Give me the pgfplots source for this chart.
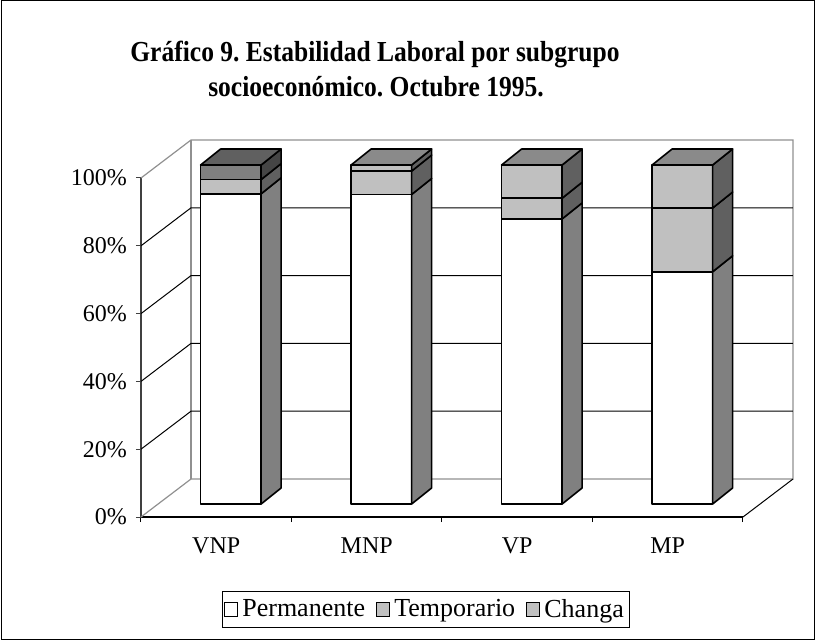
\documentclass[border=0pt]{standalone}
\usepackage{fontspec}
\setmainfont{Liberation Serif}
\newfontfamily\titlefont[FakeStretch=0.88]{Liberation Serif}
\usepackage{pgfplots}
\pgfplotsset{compat=1.18}
\definecolor{gA}{HTML}{C0C0C0}
\definecolor{gB}{HTML}{808080}
\definecolor{gC}{HTML}{606060}
\definecolor{gD}{HTML}{454545}
\definecolor{gT}{HTML}{8A8A8A}
\definecolor{wallgray}{HTML}{909090}
% #1 category centre, #2 base, #3 value, #4 front colour, #5 side colour
\newcommand{\seg}[5]{%
  \pgfmathsetmacro\xl{#1-0.104}%
  \pgfmathsetmacro\xr{#1+0.298}%
  \pgfmathsetmacro\xb{#1+0.431}%
  \pgfmathsetmacro\yfa{#2+3.83}%
  \pgfmathsetmacro\yfb{#2+#3+3.83}%
  \pgfmathsetmacro\yba{#2+8.55}%
  \pgfmathsetmacro\ybb{#2+#3+8.55}%
  \edef\tmp{\noexpand\addplot[forget plot, fill=#4, draw=black, line width=0.8pt, line join=round] coordinates {(\xl,\yfa) (\xr,\yfa) (\xr,\yfb) (\xl,\yfb)} --cycle;
  \noexpand\addplot[forget plot, fill=#5, draw=black, line width=0.8pt, line join=round] coordinates {(\xr,\yfa) (\xb,\yba) (\xb,\ybb) (\xr,\yfb)} --cycle;}%
  \tmp}
% #1 category centre, #2 top value, #3 colour
\newcommand{\topf}[3]{%
  \pgfmathsetmacro\xl{#1-0.104}%
  \pgfmathsetmacro\xr{#1+0.298}%
  \pgfmathsetmacro\xbl{#1+0.029}%
  \pgfmathsetmacro\xb{#1+0.431}%
  \pgfmathsetmacro\yf{#2+3.83}%
  \pgfmathsetmacro\yb{#2+8.55}%
  \edef\tmp{\noexpand\addplot[forget plot, fill=#3, draw=black, line width=0.8pt, line join=round] coordinates {(\xl,\yf) (\xr,\yf) (\xb,\yb) (\xbl,\yb)} --cycle;}%
  \tmp}
\begin{document}
\frenchspacing
\begin{tikzpicture}[x=0.5pt,y=-0.5pt]
\path (0,0) rectangle (815,641);
\draw[black, line width=0.5pt] (1,1) rectangle (814,640);
\node[font=\titlefont\bfseries\fontsize{14.5}{17}\selectfont, anchor=base] at (375,62) {Gráfico 9. Estabilidad Laboral por subgrupo};
\node[font=\titlefont\bfseries\fontsize{14.5}{17}\selectfont, anchor=base] at (376,97) {socioeconómico. Octubre 1995.};
\coordinate (O) at (141,517);
\begin{axis}[
  at={(O)}, anchor=south west,
  scale only axis, width=301pt, height=169.5pt,
  xmin=0, xmax=4, ymin=0, ymax=100,
  clip=false,
  axis x line=bottom, axis y line=left,
  x axis line style={-, black, line width=0.6pt},
  y axis line style={-, black!75, line width=0.6pt},
  xtick={0.5,1.5,2.5,3.5},
  xticklabels={VNP,MNP,VP,MP},
  major x tick style={draw=none},
  minor xtick={0,1,2,3,4},
  minor x tick style={black, line width=0.5pt},
  ytick={0,20,40,60,80,100},
  y tick style={black!75, line width=0.5pt},
  yticklabel={\pgfmathprintnumber{\tick}\%},
  tick align=outside,
  major tick length=2.5pt, minor tick length=2.5pt,
  tick label style={font=\fontsize{12}{14}\selectfont},
  xticklabel style={yshift=-4.5pt},
  yticklabel style={xshift=-1pt},
  /pgf/number format/assume math mode=true,
  legend style={at={(0.4734,-0.2729)}, anchor=center, legend columns=3,
    draw=black, line width=0.5pt, font=\fontsize{13}{15}\selectfont,
    inner xsep=1pt, inner ysep=1.5pt,
    /tikz/every odd column/.append style={column sep=0pt},
    /tikz/every even column/.append style={column sep=3.5pt}},
  legend image code/.code={\draw[#1, draw=black, line width=0.5pt] (0pt,-3.3pt) rectangle (6.6pt,3.3pt);},
]
\addlegendimage{fill=white}\addlegendentry{Permanente}
\addlegendimage{fill=gA}\addlegendentry{Temporario}
\addlegendimage{fill=gA}\addlegendentry{Changa}
% walls
\draw[wallgray, line width=0.6pt] (axis cs:0,0) -- (axis cs:0.332,11.2) -- (axis cs:4.332,11.2) -- (axis cs:4.332,111.2) -- (axis cs:0.332,111.2) -- (axis cs:0,100);
\draw[wallgray, line width=0.6pt] (axis cs:0.332,11.2) -- (axis cs:0.332,111.2);
\draw[black, line width=0.5pt] (axis cs:4,0) -- (axis cs:4.332,11.2);
\draw[black, line width=0.5pt] (axis cs:0,20) -- (axis cs:0.332,31.2) -- (axis cs:4.332,31.2);
\draw[black, line width=0.5pt] (axis cs:0,40) -- (axis cs:0.332,51.2) -- (axis cs:4.332,51.2);
\draw[black, line width=0.5pt] (axis cs:0,60) -- (axis cs:0.332,71.2) -- (axis cs:4.332,71.2);
\draw[black, line width=0.5pt] (axis cs:0,80) -- (axis cs:0.332,91.2) -- (axis cs:4.332,91.2);
% VNP
\seg{0.5}{0}{91.5}{white}{gB}
\seg{0.5}{91.5}{4.2}{gA}{gC}
\seg{0.5}{95.7}{4.3}{gB}{gD}
\topf{0.5}{100}{gC}
% MNP
\seg{1.5}{0}{91.3}{white}{gB}
\seg{1.5}{91.3}{6.9}{gA}{gC}
\seg{1.5}{98.2}{1.8}{gA}{gC}
\topf{1.5}{100}{gT}
% VP
\seg{2.5}{0}{84.1}{white}{gB}
\seg{2.5}{84.1}{6.1}{gA}{gC}
\seg{2.5}{90.2}{9.8}{gA}{gC}
\topf{2.5}{100}{gT}
% MP
\seg{3.5}{0}{68.5}{white}{gB}
\seg{3.5}{68.5}{18.8}{gA}{gC}
\seg{3.5}{87.3}{12.7}{gA}{gC}
\topf{3.5}{100}{gT}
\end{axis}
\end{tikzpicture}
\end{document}
